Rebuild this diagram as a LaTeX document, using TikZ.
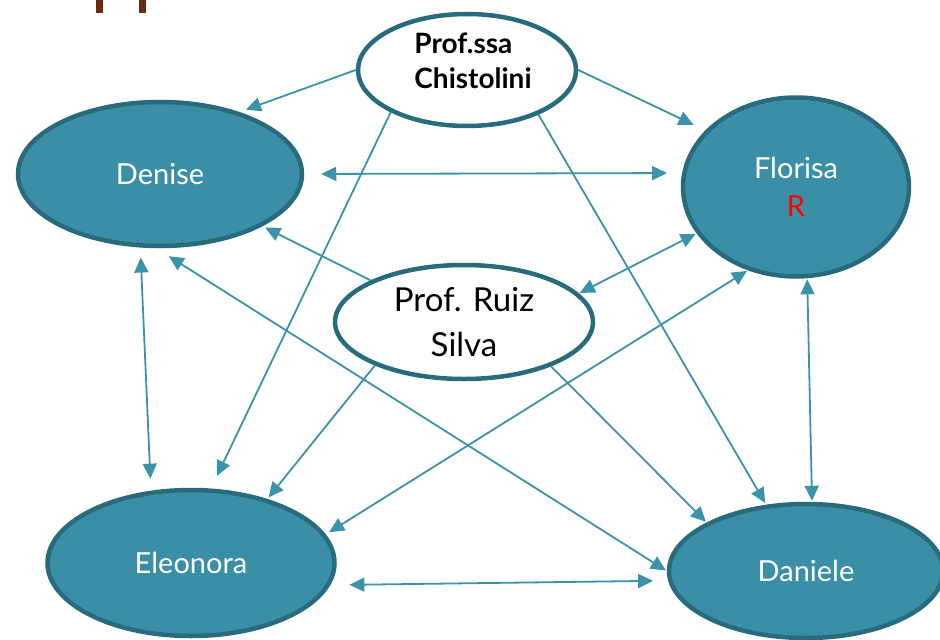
\documentclass[tikz,border=0pt]{standalone}
\usepackage{fontspec}
\setmainfont{Lato}
\usetikzlibrary{shapes.geometric,arrows.meta}

\definecolor{tealfill}{HTML}{3A8FA6}
\definecolor{tealline}{HTML}{276B7C}
\definecolor{arrowteal}{HTML}{3A93A8}
\definecolor{barbrown}{HTML}{6B2A14}

\tikzset{
	person/.style={ellipse, draw=tealline, line width=4.5pt, fill=tealfill, text=white,
		inner sep=0pt, align=center, font=\fontsize{29}{38}\selectfont},
	prof/.style={ellipse, draw=tealline, line width=4.5pt, fill=white, inner sep=0pt, align=center},
	arr/.style={draw=arrowteal, line width=1.8pt, -{Triangle[length=15pt,width=14pt]}},
	both/.style={draw=arrowteal, line width=1.8pt,
		{Triangle[length=15pt,width=14pt]}-{Triangle[length=15pt,width=14pt]}}
}

\begin{document}
\begin{tikzpicture}[x=1pt,y=-1pt]
		\useasboundingbox (0,0) rectangle (940,640);

		% the two bars left over at the top
		\fill [barbrown] (96,0) rectangle (103,13);
		\fill [barbrown] (139,0) rectangle (146,13);

		% teachers
		\node [prof, minimum width=218pt, minimum height=112pt] (chi) at (467,70) {};
		\node [align=left, font=\fontsize{28}{35}\selectfont\bfseries] (chitxt) at (473,61) {Prof.ssa\\Chistolini};
		\node [prof, minimum width=258pt, minimum height=114pt, font=\fontsize{33}{45}\selectfont] (rui) at (464,322) {Prof. Ruiz\\Silva};

		% pupils
		\node [person, minimum width=284pt, minimum height=144pt] (den) at (160,174) {Denise};
		\node [person, minimum width=226pt, minimum height=179pt] (flo) at (796,187) {Florisa\\\textcolor{red}{R}};
		\node [person, minimum width=287pt, minimum height=146pt] (ele) at (191,563) {Eleonora};
		\node [person, minimum width=274pt, minimum height=134pt] (dan) at (806,571) {Daniele};

		% one way
		\foreach \s/\t/\g in {chi.180/den.38/7, chi.0/flo.148/13, chi.209/ele.75/14, chi.-32/dan.121/2,
				rui.156/den.-27/3, rui.206/ele.40/2, rui.-27/dan.154/1} {
			\draw [arr, shorten >=\g pt] (\s) -- (\t);
		}

		% both ways
		\foreach \s/\t/\ga/\gb in {den.0/flo.173/17/15, rui.14/flo.205/1/1, den.255/ele.119/10/12,
				den.267/dan.180/15/1, flo.240/ele.12/1/4, flo.-83/dan.85/1/1, ele.-9/dan.184/19/15} {
			\draw [both, shorten <=\ga pt, shorten >=\gb pt] (\s) -- (\t);
		}
	\end{tikzpicture}
\end{document}
